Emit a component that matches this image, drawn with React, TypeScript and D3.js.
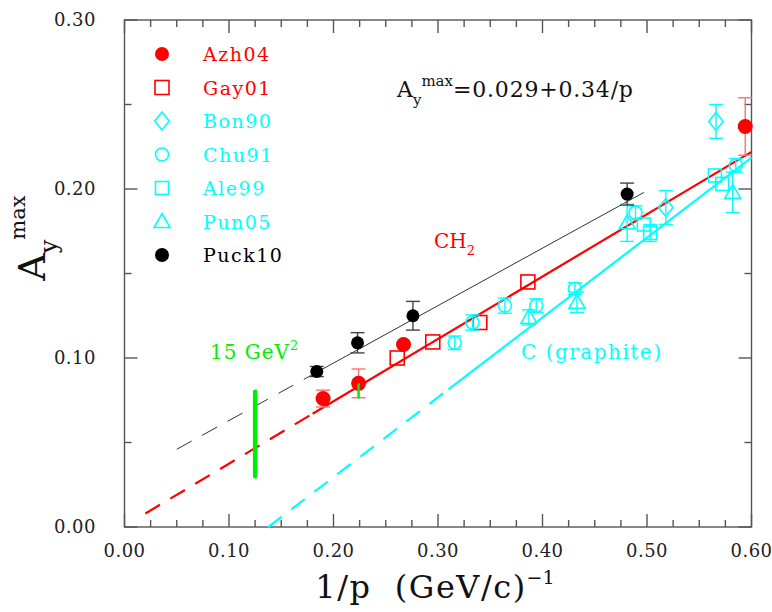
import { useEffect, useRef } from 'react';
import * as d3 from 'd3';

// Series: [1/p, Ay max, error]
const azh04 = [[0.190, 0.076, 0.005], [0.224, 0.085, 0.0085], [0.267, 0.108, 0], [0.594, 0.237, 0.017]];
const gay01 = [[0.261, 0.100, 0], [0.295, 0.1095, 0], [0.340, 0.121, 0], [0.386, 0.145, 0]];
const bon90 = [[0.518, 0.189, 0.010], [0.566, 0.240, 0.010]];
const chu91 = [[0.316, 0.109, 0.004], [0.333, 0.121, 0.0045], [0.364, 0.131, 0.0045], [0.394, 0.131, 0.004], [0.431, 0.141, 0.0035], [0.489, 0.186, 0.004], [0.585, 0.214, 0.004]];
const ale99 = [[0.497, 0.179, 0], [0.503, 0.174, 0.005], [0.565, 0.208, 0], [0.572, 0.203, 0]];
const pun05 = [[0.387, 0.124, 0.0045], [0.433, 0.133, 0.006], [0.481, 0.180, 0.011], [0.582, 0.198, 0.012]];
const puck10 = [[0.184, 0.092, 0.003], [0.223, 0.109, 0.006], [0.276, 0.125, 0.0085], [0.481, 0.197, 0.0065]];

const legendNames = ['Azh04', 'Gay01', 'Bon90', 'Chu91', 'Ale99', 'Pun05', 'Puck10'];

// Fits: Ay = a + b/p, dashed from dashFrom to solidFrom, solid up to fitTo
const fitIntercepts = [0.029, 0.0006, -0.065];
const fitSlopes = [0.34, 0.369, 0.4725];
const fitDashFrom = [0.05, 0.02, 0.1375];
const fitSolidFrom = [0.18, 0.18, 0.31];
const fitTo = [0.497, 0.6, 0.6];

// 15 GeV^2 marker
const marker15 = [0.125, 0.03, 0.08];
const marker15b = [0.224, 0.076, 0.085];

const xTicks = [0, 0.1, 0.2, 0.3, 0.4, 0.5, 0.6];
const yTicks = [0, 0.1, 0.2, 0.3];

const RED = '#ff0000';
const CYAN = '#00ffff';
const GREEN = '#00ee00';
const FONT = 'DejaVu Serif';
const NB = '\u00a0';

export default function App() {
  const ref = useRef(null);

  useEffect(() => {
    const width = 772, height = 612;
    const svg = d3.select(ref.current);
    svg.selectAll('*').remove();
    svg.attr('width', width).attr('height', height);

    const x = d3.scaleLinear().domain([0, 0.6]).range([124.5, 751.5]);
    const y = d3.scaleLinear().domain([0, 0.3]).range([527, 20]);

    // Marco
    const frame = svg.append('g').attr('stroke', '#555').attr('stroke-width', 1.4).attr('fill', 'none');
    frame.append('rect').attr('x', x(0)).attr('y', y(0.3)).attr('width', x(0.6) - x(0)).attr('height', y(0) - y(0.3));
    const xMinor = d3.range(0, 0.6001, 0.025);
    const yMinor = d3.range(0, 0.3001, 0.05);
    xMinor.forEach((t, i) => {
      const len = i % 4 === 0 ? 13 : 7;
      frame.append('line').attr('x1', x(t)).attr('x2', x(t)).attr('y1', y(0)).attr('y2', y(0) - len);
      frame.append('line').attr('x1', x(t)).attr('x2', x(t)).attr('y1', y(0.3)).attr('y2', y(0.3) + len);
    });
    yMinor.forEach((t, i) => {
      const len = i % 2 === 0 ? 13 : 7;
      frame.append('line').attr('x1', x(0)).attr('x2', x(0) + len).attr('y1', y(t)).attr('y2', y(t));
      frame.append('line').attr('x1', x(0.6)).attr('x2', x(0.6) - len).attr('y1', y(t)).attr('y2', y(t));
    });

    // Etiquetas de ejes
    svg.append('g').selectAll('text').data(xTicks).join('text')
      .attr('x', d => x(d)).attr('y', y(0) + 30)
      .attr('text-anchor', 'middle').attr('font-family', FONT).attr('font-size', 18).attr('letter-spacing', 0.5).attr('fill', '#222')
      .text(d => d3.format('.2f')(d));
    svg.append('g').selectAll('text').data(yTicks).join('text')
      .attr('x', 96).attr('y', d => y(d) + 6)
      .attr('text-anchor', 'end').attr('font-family', FONT).attr('font-size', 18).attr('letter-spacing', 0.5).attr('fill', '#222')
      .text(d => d3.format('.2f')(d));

    // Título eje X
    const xt = svg.append('text').attr('x', 435).attr('y', 598).attr('text-anchor', 'middle')
      .attr('font-family', FONT).attr('fill', '#111');
    xt.append('tspan').attr('font-size', 32).attr('letter-spacing', 1.5).text(`1/p${NB}${NB}(GeV/c)`);
    xt.append('tspan').attr('font-size', 19).attr('dy', -14).text('−1');

    // Título eje Y
    const yt = svg.append('text').attr('transform', 'translate(45,238) rotate(-90)').attr('text-anchor', 'middle')
      .attr('font-family', FONT).attr('fill', '#111');
    yt.append('tspan').attr('font-size', 38).text('A');
    yt.append('tspan').attr('font-size', 24).attr('dy', 12).text('y');
    yt.append('tspan').attr('font-size', 21).attr('dy', -32).text('max');

    // Rectas de ajuste
    const fitColors = ['#333', RED, CYAN];
    const fitWidths = [1, 2.2, 2.2];
    fitIntercepts.forEach((a, i) => {
      const b = fitSlopes[i];
      const f = v => a + b * v;
      svg.append('line')
        .attr('x1', x(fitDashFrom[i])).attr('y1', y(f(fitDashFrom[i])))
        .attr('x2', x(fitSolidFrom[i])).attr('y2', y(f(fitSolidFrom[i])))
        .attr('stroke', fitColors[i]).attr('stroke-width', fitWidths[i]).attr('stroke-dasharray', '17,12');
      svg.append('line')
        .attr('x1', x(fitSolidFrom[i])).attr('y1', y(f(fitSolidFrom[i])))
        .attr('x2', x(fitTo[i])).attr('y2', y(f(fitTo[i])))
        .attr('stroke', fitColors[i]).attr('stroke-width', fitWidths[i]);
    });

    // Marcador 15 GeV^2
    svg.append('line').attr('x1', x(marker15[0])).attr('x2', x(marker15[0]))
      .attr('y1', y(marker15[1])).attr('y2', y(marker15[2]))
      .attr('stroke', GREEN).attr('stroke-width', 4.5).attr('stroke-linecap', 'round');

    // Símbolos
    const drawSymbol = (g, type, cx, cy, color, s) => {
      if (type === 'dot') {
        g.append('circle').attr('cx', cx).attr('cy', cy).attr('r', s).attr('fill', color);
      } else if (type === 'circle') {
        g.append('circle').attr('cx', cx).attr('cy', cy).attr('r', s).attr('fill', 'none').attr('stroke', color).attr('stroke-width', 1.6);
      } else if (type === 'square') {
        g.append('rect').attr('x', cx - s).attr('y', cy - s).attr('width', 2 * s).attr('height', 2 * s)
          .attr('fill', 'none').attr('stroke', color).attr('stroke-width', 1.6);
      } else if (type === 'diamond') {
        g.append('path').attr('d', `M${cx},${cy - s}L${cx + s * 0.8},${cy}L${cx},${cy + s}L${cx - s * 0.8},${cy}Z`)
          .attr('fill', 'none').attr('stroke', color).attr('stroke-width', 1.6);
      } else if (type === 'triangle') {
        g.append('path').attr('d', `M${cx},${cy - s}L${cx + s},${cy + s * 0.75}L${cx - s},${cy + s * 0.75}Z`)
          .attr('fill', 'none').attr('stroke', color).attr('stroke-width', 1.6);
      }
    };

    const series = [
      { data: gay01, type: 'square', color: RED, err: '#ff7070', s: 7 },
      { data: chu91, type: 'circle', color: CYAN, err: CYAN, s: 6.5 },
      { data: ale99, type: 'square', color: CYAN, err: CYAN, s: 6.5 },
      { data: pun05, type: 'triangle', color: CYAN, err: CYAN, s: 8 },
      { data: bon90, type: 'diamond', color: CYAN, err: CYAN, s: 9 },
      { data: azh04, type: 'dot', color: RED, err: '#ff7070', s: 7.5 },
      { data: puck10, type: 'dot', color: '#000', err: '#444', s: 6.5 },
    ];
    series.forEach(sr => {
      const g = svg.append('g');
      sr.data.forEach(([px, py, e]) => {
        if (e > 0) {
          const eg = g.append('g').attr('stroke', sr.err).attr('stroke-width', 1.4);
          eg.append('line').attr('x1', x(px)).attr('x2', x(px)).attr('y1', y(py - e)).attr('y2', y(py + e));
          eg.append('line').attr('x1', x(px) - 7).attr('x2', x(px) + 7).attr('y1', y(py - e)).attr('y2', y(py - e));
          eg.append('line').attr('x1', x(px) - 7).attr('x2', x(px) + 7).attr('y1', y(py + e)).attr('y2', y(py + e));
        }
        drawSymbol(g, sr.type, x(px), y(py), sr.color, sr.s);
      });
    });

    svg.append('line').attr('x1', x(marker15b[0])).attr('x2', x(marker15b[0]))
      .attr('y1', y(marker15b[1])).attr('y2', y(marker15b[2]))
      .attr('stroke', GREEN).attr('stroke-width', 2.5);

    // Leyenda
    const legendTypes = ['dot', 'square', 'diamond', 'circle', 'square', 'triangle', 'dot'];
    const legendColors = [RED, RED, CYAN, CYAN, CYAN, CYAN, '#000'];
    const legendSizes = [7, 7, 9, 6.5, 6.5, 8, 7];
    const lg = svg.append('g');
    legendNames.forEach((name, i) => {
      const cy = 54 + i * 33.5;
      drawSymbol(lg, legendTypes[i], 162, cy, legendColors[i], legendSizes[i]);
      lg.append('text').attr('x', 203).attr('y', cy + 7).attr('font-family', FONT).attr('font-size', 19)
        .attr('letter-spacing', 1.5).attr('fill', legendColors[i]).text(name);
    });

    // Anotaciones
    const ft = svg.append('text').attr('x', 397).attr('y', 97).attr('font-family', FONT).attr('fill', '#111');
    ft.append('tspan').attr('font-size', 22).text('A');
    ft.append('tspan').attr('font-size', 15).attr('dy', 8).text('y');
    ft.append('tspan').attr('font-size', 15).attr('dy', -19).text('max');
    ft.append('tspan').attr('font-size', 22).attr('letter-spacing', 0.8).attr('dy', 11).text('=0.029+0.34/p');

    const ch = svg.append('text').attr('x', 434).attr('y', 248).attr('font-family', FONT).attr('fill', RED);
    ch.append('tspan').attr('font-size', 20).text('CH');
    ch.append('tspan').attr('font-size', 13).attr('dy', 7).text('2');

    svg.append('text').attr('x', 521).attr('y', 359).attr('font-family', FONT).attr('font-size', 20)
      .attr('letter-spacing', 1.5).attr('fill', CYAN).text(`C${NB}(graphite)`);

    const gv = svg.append('text').attr('x', 210).attr('y', 359).attr('font-family', FONT).attr('fill', GREEN);
    gv.append('tspan').attr('font-size', 20).attr('letter-spacing', 1).text(`15${NB}GeV`);
    gv.append('tspan').attr('font-size', 13).attr('dy', -9).text('2');
  }, []);

  return <svg ref={ref} style={{ position: 'absolute', left: 0, top: 0, background: '#fff' }} />;
}
